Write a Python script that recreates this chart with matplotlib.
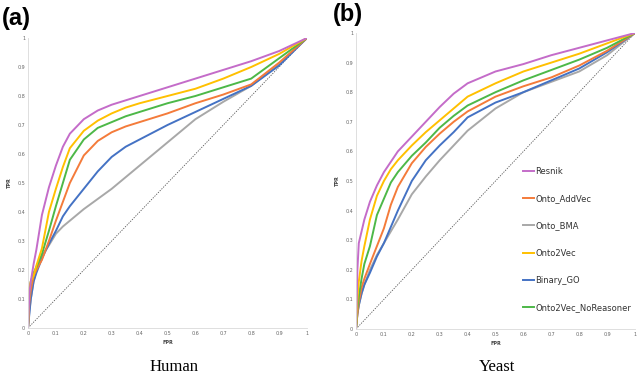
import matplotlib
matplotlib.use("Agg")
import matplotlib.pyplot as plt

fpr = [0, 0.005, 0.01, 0.02, 0.03, 0.05, 0.075, 0.1, 0.125, 0.15, 0.2, 0.25,
       0.3, 0.35, 0.4, 0.5, 0.6, 0.7, 0.8, 0.9, 1.0]

methods = ["Resnik", "Onto_AddVec", "Onto_BMA", "Onto2Vec", "Binary_GO",
           "Onto2Vec_NoReasoner"]

# Human (panel a)
human_resnik = [0, 0.12, 0.16, 0.22, 0.27, 0.39, 0.485, 0.56, 0.625, 0.67, 0.72, 0.75,
                0.77, 0.785, 0.80, 0.83, 0.86, 0.89, 0.92, 0.955, 1.0]
human_addvec = [0, 0.09, 0.13, 0.18, 0.20, 0.235, 0.30, 0.37, 0.435, 0.50, 0.595, 0.645,
                0.675, 0.695, 0.71, 0.74, 0.775, 0.805, 0.84, 0.915, 1.0]
human_bma = [0, 0.06, 0.10, 0.16, 0.20, 0.25, 0.285, 0.325, 0.35, 0.37, 0.41, 0.445,
             0.48, 0.52, 0.56, 0.64, 0.72, 0.78, 0.835, 0.91, 1.0]
human_onto2vec = [0, 0.14, 0.16, 0.18, 0.215, 0.275, 0.40, 0.48, 0.555, 0.62, 0.68, 0.715,
                  0.74, 0.76, 0.775, 0.80, 0.825, 0.86, 0.90, 0.945, 1.0]
human_binary = [0, 0.05, 0.10, 0.16, 0.19, 0.24, 0.29, 0.335, 0.385, 0.42, 0.48, 0.54,
                0.59, 0.625, 0.65, 0.70, 0.745, 0.79, 0.835, 0.905, 1.0]
human_noreasoner = [0, 0.13, 0.16, 0.19, 0.21, 0.255, 0.335, 0.42, 0.50, 0.58, 0.65, 0.69,
                    0.71, 0.73, 0.745, 0.775, 0.80, 0.83, 0.86, 0.93, 1.0]

# Yeast (panel b)
yeast_resnik = [0, 0.20, 0.29, 0.33, 0.37, 0.43, 0.485, 0.53, 0.565, 0.60, 0.65, 0.70,
                0.75, 0.795, 0.83, 0.87, 0.895, 0.925, 0.95, 0.975, 1.0]
yeast_addvec = [0, 0.05, 0.09, 0.14, 0.17, 0.22, 0.28, 0.34, 0.42, 0.48, 0.56, 0.615,
                0.66, 0.70, 0.735, 0.785, 0.82, 0.85, 0.89, 0.94, 1.0]
yeast_bma = [0, 0.05, 0.08, 0.12, 0.15, 0.20, 0.25, 0.29, 0.33, 0.37, 0.455, 0.515,
             0.57, 0.62, 0.67, 0.745, 0.80, 0.835, 0.87, 0.925, 1.0]
yeast_onto2vec = [0, 0.10, 0.16, 0.23, 0.28, 0.37, 0.45, 0.50, 0.54, 0.57, 0.62, 0.665,
                  0.705, 0.745, 0.785, 0.83, 0.87, 0.90, 0.93, 0.965, 1.0]
yeast_binary = [0, 0.05, 0.08, 0.12, 0.15, 0.19, 0.245, 0.29, 0.345, 0.40, 0.50, 0.57,
                0.62, 0.665, 0.715, 0.765, 0.80, 0.84, 0.88, 0.935, 1.0]
yeast_noreasoner = [0, 0.07, 0.11, 0.17, 0.22, 0.28, 0.385, 0.44, 0.495, 0.53, 0.585, 0.63,
                    0.68, 0.72, 0.755, 0.80, 0.84, 0.875, 0.91, 0.95, 1.0]

tick_vals = [0, 0.1, 0.2, 0.3, 0.4, 0.5, 0.6, 0.7, 0.8, 0.9, 1]
tick_labels = ["0", "0.1", "0.2", "0.3", "0.4", "0.5", "0.6", "0.7", "0.8", "0.9", "1"]

colors = ["#C46CC9", "#F47B3A", "#A8A8A8", "#FFC000", "#4472C4", "#4DB848"]

human = [human_resnik, human_addvec, human_bma, human_onto2vec, human_binary, human_noreasoner]
yeast = [yeast_resnik, yeast_addvec, yeast_bma, yeast_onto2vec, yeast_binary, yeast_noreasoner]

fig = plt.figure(figsize=(6.4, 3.76), dpi=100)
ax_a = fig.add_axes([28/640, 1-328/376, 279/640, 290/376])
ax_b = fig.add_axes([356/640, 1-329/376, 279/640, 296/376])

# draw order: gray, blue, orange, green, yellow, purple (purple on top)
order = [2, 4, 1, 5, 3, 0]

for ax, data in ((ax_a, human), (ax_b, yeast)):
    ax.plot([0, 1], [0, 1], color="#555555", lw=0.6, ls=(0, (1.5, 1.5)), zorder=1)
    for i in order:
        ax.plot(fpr, data[i], color=colors[i], lw=1.4, label=methods[i], zorder=2,
                solid_joinstyle="round")
    ax.set_xlim(0, 1)
    ax.set_ylim(0, 1)
    ax.set_xticks(tick_vals)
    ax.set_xticklabels(tick_labels)
    ax.set_yticks(tick_vals)
    ax.set_yticklabels(tick_labels)
    ax.tick_params(length=0, labelsize=3.5, labelcolor="#666666", pad=2)
    for s in ("top", "right"):
        ax.spines[s].set_visible(False)
    for s in ("left", "bottom"):
        ax.spines[s].set_color("#D9D9D9")
        ax.spines[s].set_linewidth(0.6)
    ax.set_xlabel("FPR", fontsize=3.5, color="#444444", fontweight="bold", labelpad=3)
    ax.set_ylabel("TPR", fontsize=3.5, color="#444444", fontweight="bold", labelpad=4)

handles = ax_b.get_lines()[1:]
hdict = {h.get_label(): h for h in handles}
leg = ax_b.legend([hdict[m] for m in methods], methods, loc="upper left",
                  bbox_to_anchor=(0.585, 0.56), frameon=False, fontsize=6,
                  handlelength=1.4, handletextpad=0.1, labelspacing=2.2,
                  borderaxespad=0)
for t in leg.get_texts():
    t.set_color("#333333")

fig.text(2/640, 1-7/376, "(a)", fontsize=17, fontweight="bold",
         family="Liberation Sans", va="top", ha="left")
fig.text(333/640, 1-3/376, "(b)", fontsize=17, fontweight="bold",
         family="Liberation Sans", va="top", ha="left")
fig.text(174/640, 1-375/376, "Human", fontsize=12, family="Liberation Serif",
         va="bottom", ha="center")
fig.text(497/640, 1-375/376, "Yeast", fontsize=12, family="Liberation Serif",
         va="bottom", ha="center")

fig.savefig("out.png", dpi=100)
